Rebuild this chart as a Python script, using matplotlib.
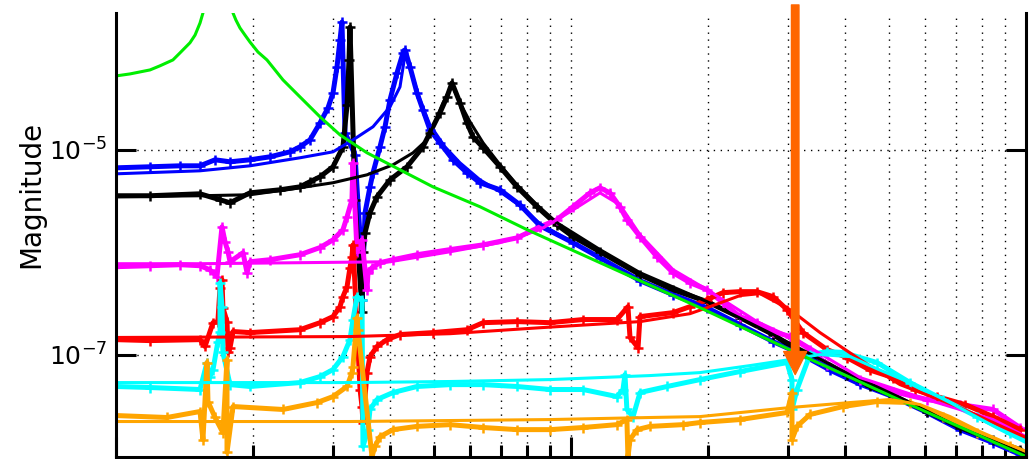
import matplotlib.pyplot as plt
from matplotlib.ticker import FixedLocator, LogLocator, NullFormatter, NullLocator

# frequency (Hz) and magnitude of each measured run, plus its fitted model
blue_f = [10.0, 11.88, 13.82, 15.30, 16.51, 17.81, 19.70, 21.81, 24.13, 25.37,
          26.69, 28.08, 29.24, 29.99, 30.60, 31.07, 31.38, 31.87, 33.52, 34.39,
          34.73, 35.27, 36.16, 36.72, 38.04, 39.02, 40.01, 41.46, 42.74, 43.17,
          44.28, 45.87, 47.28, 48.98, 51.53, 55.03, 59.08, 63.10, 69.82, 77.26,
          85.48, 101.0, 115.8, 141.8, 167.6, 199.0, 235.2, 278.0, 318.7, 370.9,
          431.6, 510.1, 606.0, 716.0, 846.2, 970.0]
blue_m = [6.67e-6, 6.83e-6, 6.98e-6, 6.98e-6, 7.99e-6, 7.64e-6, 7.99e-6, 8.55e-6, 9.56e-6, 1.07e-5,
          1.25e-5, 1.83e-5, 2.57e-5, 3.60e-5, 6.45e-5, 1.18e-4, 1.77e-4, 1.47e-5, 8.94e-6, 1.42e-6,
          3.44e-7, 2.43e-6, 4.35e-6, 5.97e-6, 1.07e-5, 1.68e-5, 3.07e-5, 5.64e-5, 8.83e-5, 9.46e-5,
          6.45e-5, 3.60e-5, 2.45e-5, 1.57e-5, 1.17e-5, 7.99e-6, 5.97e-6, 4.77e-6, 4.07e-6, 2.90e-6,
          1.81e-6, 1.24e-6, 8.83e-7, 5.27e-7, 3.85e-7, 2.87e-7, 1.96e-7, 1.34e-7, 1.02e-7, 7.06e-8,
          5.15e-8, 3.89e-8, 2.72e-8, 1.85e-8, 1.38e-8, 1.06e-8]
blue_fit_f = [10.0, 15.30, 19.70, 25.37, 29.99, 33.18, 36.72, 40.01, 42.09, 43.17, 44.28, 46.58,
              48.98, 52.84, 57.02, 63.10, 69.82, 77.26, 85.48, 101.0, 141.8, 199.0, 278.0, 390.1,
              528.4, 716.0, 1000]
blue_fit_m = [5.83e-6, 6.24e-6, 6.98e-6, 8.36e-6, 9.56e-6, 1.25e-5, 1.68e-5, 2.63e-5, 4.12e-5,
              8.45e-5, 6.31e-5, 3.07e-5, 1.75e-5, 1.07e-5, 7.47e-6, 5.09e-6, 3.89e-6, 2.84e-6,
              1.90e-6, 1.24e-6, 5.27e-7, 2.87e-7, 1.34e-7, 6.83e-8, 3.64e-8, 1.94e-8, 1.01e-8]

black_f = [10.0, 11.88, 15.30, 16.93, 17.81, 19.70, 22.93, 25.37, 26.69, 28.08,
           29.99, 31.54, 32.20, 32.52, 32.68, 33.52, 34.73, 34.90, 35.27, 36.16,
           37.46, 40.01, 43.61, 47.28, 48.98, 51.53, 53.39, 54.76, 57.02, 59.08,
           60.91, 64.09, 69.82, 76.09, 84.20, 93.17, 101.0, 115.8, 141.8, 167.6,
           199.0, 235.2, 278.0, 307.5, 352.6, 404.3, 454.1, 510.1, 606.0, 716.0,
           846.2, 970.0]
black_m = [3.56e-6, 3.56e-6, 3.72e-6, 3.25e-6, 3.04e-6, 3.80e-6, 4.07e-6, 4.35e-6, 4.88e-6, 5.45e-6,
           6.83e-6, 1.07e-5, 2.75e-5, 7.55e-5, 1.58e-4, 3.25e-6, 2.63e-7, 1.01e-6, 1.55e-6, 2.43e-6,
           3.48e-6, 5.09e-6, 6.83e-6, 1.07e-5, 1.47e-5, 2.30e-5, 3.29e-5, 4.51e-5, 2.88e-5, 1.83e-5,
           1.34e-5, 1.05e-5, 6.83e-6, 4.35e-6, 2.78e-6, 1.85e-6, 1.42e-6, 1.01e-6, 6.03e-7, 4.31e-7,
           3.29e-7, 2.30e-7, 1.57e-7, 1.17e-7, 8.94e-8, 6.38e-8, 4.88e-8, 3.98e-8, 2.78e-8, 1.94e-8,
           1.45e-8, 1.18e-8]
black_fit_f = [10.0, 15.30, 19.70, 25.37, 29.99, 35.62, 40.63, 44.95, 48.25, 49.73, 52.32, 54.76,
               57.02, 59.98, 64.09, 69.82, 76.09, 84.20, 93.17, 115.8, 141.8, 199.0, 278.0, 390.1,
               528.4, 716.0, 1000]
black_fit_m = [3.48e-6, 3.56e-6, 3.64e-6, 4.26e-6, 4.77e-6, 5.70e-6, 7.14e-6, 9.35e-6, 1.25e-5,
               1.68e-5, 2.88e-5, 4.31e-5, 2.88e-5, 1.88e-5, 1.17e-5, 7.14e-6, 4.56e-6, 2.90e-6,
               1.94e-6, 1.06e-6, 6.31e-7, 3.29e-7, 1.57e-7, 7.14e-8, 3.80e-8, 1.92e-8, 1.06e-8]

magenta_f = [10.0, 11.88, 13.82, 15.30, 16.07, 16.67, 17.10, 17.36, 17.63, 17.81,
             19.02, 19.41, 19.70, 21.81, 25.37, 28.08, 29.99, 31.54, 32.20, 33.01,
             33.18, 33.86, 34.73, 35.62, 35.80, 36.53, 38.04, 40.63, 45.87, 54.21,
             64.09, 76.09, 85.48, 93.17, 101.0, 110.1, 115.8, 121.8, 128.1, 132.7,
             141.8, 154.5, 167.6, 182.6, 199.0, 215.8, 235.2, 256.3, 278.0, 302.9,
             335.2, 365.2, 431.6, 510.1, 606.0, 716.0, 846.2, 970.0]
magenta_m = [7.22e-7, 7.38e-7, 7.55e-7, 7.38e-7, 6.75e-7, 5.77e-7, 1.77e-6, 1.27e-6, 1.01e-6, 8.07e-7,
             9.89e-7, 6.31e-7, 8.07e-7, 8.45e-7, 9.45e-7, 1.11e-6, 1.32e-6, 1.66e-6, 2.22e-6, 3.25e-6,
             7.47e-6, 1.01e-6, 1.32e-6, 4.31e-7, 6.31e-7, 7.06e-7, 7.90e-7, 8.45e-7, 9.45e-7, 1.06e-6,
             1.18e-6, 1.38e-6, 1.77e-6, 2.08e-6, 2.78e-6, 3.80e-6, 4.26e-6, 3.80e-6, 2.78e-6, 2.08e-6,
             1.42e-6, 9.03e-7, 6.31e-7, 5.04e-7, 4.31e-7, 3.21e-7, 2.35e-7, 2.05e-7, 1.68e-7, 1.50e-7,
             1.12e-7, 7.99e-8, 5.70e-8, 4.35e-8, 3.64e-8, 3.25e-8, 2.91e-8, 1.94e-8]
magenta_fit_f = [10.0, 15.30, 25.37, 40.01, 54.21, 69.82, 85.48, 99.49, 115.8, 128.1, 141.8,
                 167.6, 199.0, 256.3, 318.7, 431.6, 606.0, 846.2, 1000]
magenta_fit_m = [7.72e-7, 7.72e-7, 7.90e-7, 8.07e-7, 1.01e-6, 1.24e-6, 1.66e-6, 2.48e-6, 3.80e-6,
                 2.90e-6, 1.48e-6, 6.75e-7, 4.31e-7, 2.10e-7, 1.34e-7, 5.97e-8, 3.64e-8, 2.32e-8,
                 1.58e-8]

red_f = [10.0, 11.88, 15.30, 15.69, 16.34, 16.75, 16.93, 17.10, 17.18, 17.54,
         17.63, 17.81, 18.08, 19.70, 25.37, 28.08, 29.99, 31.07, 31.54, 32.20,
         32.68, 33.01, 33.18, 34.39, 34.73, 34.90, 35.62, 36.16, 37.46, 39.41,
         42.09, 49.73, 59.08, 64.09, 76.09, 89.91, 106.3, 126.2, 133.4, 134.8,
         140.4, 141.8, 167.6, 182.6, 199.0, 215.8, 235.2, 256.3, 278.0, 298.4,
         323.6, 365.2, 404.3, 454.1, 510.1, 570.2, 637.5, 734.4, 846.2, 970.0]
red_m = [1.40e-7, 1.37e-7, 1.40e-7, 1.20e-7, 2.05e-7, 2.10e-7, 4.51e-7, 5.39e-7, 2.87e-7, 2.10e-7,
         1.05e-7, 1.17e-7, 1.68e-7, 1.64e-7, 1.75e-7, 2.05e-7, 2.35e-7, 2.94e-7, 3.68e-7, 4.61e-7,
         7.06e-7, 9.03e-7, 1.18e-6, 4.56e-8, 3.11e-8, 2.17e-8, 6.67e-8, 9.56e-8, 1.20e-7, 1.40e-7,
         1.57e-7, 1.64e-7, 1.75e-7, 2.05e-7, 2.10e-7, 2.05e-7, 2.20e-7, 2.20e-7, 2.94e-7, 1.47e-7,
         1.17e-7, 2.35e-7, 2.57e-7, 2.94e-7, 3.44e-7, 4.03e-7, 4.12e-7, 4.12e-7, 3.68e-7, 2.75e-7,
         1.64e-7, 1.12e-7, 9.35e-8, 7.06e-8, 5.97e-8, 4.56e-8, 3.89e-8, 3.25e-8, 2.48e-8, 1.85e-8]
red_fit_f = [10.0, 32.68, 54.21, 85.48, 141.8, 182.6, 199.0, 235.2, 260.3, 302.9, 352.6,
             431.6, 528.4, 716.0, 1000]
red_fit_m = [1.47e-7, 1.50e-7, 1.60e-7, 1.83e-7, 2.10e-7, 2.51e-7, 2.87e-7, 3.77e-7, 3.94e-7,
             2.75e-7, 1.64e-7, 8.94e-8, 5.09e-8, 3.04e-8, 1.55e-8]

cyan_f = [10.0, 11.88, 15.30, 15.85, 16.07, 16.34, 16.75, 16.93, 16.93, 17.10,
          17.18, 17.81, 19.70, 25.37, 28.08, 29.99, 31.54, 32.68, 33.18, 33.86,
          34.73, 34.90, 35.80, 36.16, 37.46, 40.63, 45.87, 54.21, 64.09, 76.09,
          89.91, 106.3, 126.2, 130.1, 131.4, 132.7, 136.9, 141.8, 162.6, 192.1,
          235.2, 298.4, 306.0, 306.0, 313.8, 335.2, 365.2, 396.1, 470.4, 556.0,
          657.2, 780.5, 922.2, 1000]
cyan_m = [4.88e-8, 4.77e-8, 4.56e-8, 8.36e-8, 6.10e-8, 7.14e-8, 1.34e-7, 1.68e-7, 5.04e-7, 2.94e-7,
          1.05e-7, 5.09e-8, 4.88e-8, 5.33e-8, 6.10e-8, 7.14e-8, 9.56e-8, 1.40e-7, 2.20e-7, 3.68e-7,
          3.44e-7, 1.27e-8, 1.85e-8, 2.91e-8, 3.64e-8, 4.26e-8, 4.88e-8, 5.09e-8, 5.09e-8, 4.88e-8,
          4.56e-8, 4.56e-8, 3.89e-8, 4.56e-8, 6.38e-8, 2.91e-8, 2.48e-8, 4.26e-8, 4.88e-8, 5.70e-8,
          6.83e-8, 8.36e-8, 5.70e-8, 2.91e-8, 4.56e-8, 1.0e-7, 1.07e-7, 1.05e-7, 8.36e-8, 5.33e-8,
          3.64e-8, 2.48e-8, 1.73e-8, 1.48e-8]
cyan_fit_f = [10.0, 32.68, 54.21, 89.91, 149.2, 192.1, 247.4, 302.9, 352.6, 410.5, 477.6,
              556.0, 680.8, 876.9, 1000]
cyan_fit_m = [5.33e-8, 5.33e-8, 5.46e-8, 5.70e-8, 6.24e-8, 6.67e-8, 7.81e-8, 8.94e-8, 1.0e-7,
              9.56e-8, 7.06e-8, 5.33e-8, 3.40e-8, 1.85e-8, 1.38e-8]

orange_f = [10.0, 12.94, 15.30, 15.53, 15.85, 15.93, 16.51, 17.18, 17.54, 17.54,
            18.08, 23.28, 27.66, 29.99, 32.20, 33.01, 33.18, 33.86, 34.03, 36.53,
            37.09, 38.04, 40.63, 45.87, 54.21, 64.09, 76.09, 89.91, 106.3, 126.2,
            132.7, 133.4, 134.8, 139.7, 149.2, 176.3, 192.1, 235.2, 298.4, 306.0,
            306.0, 313.8, 335.2, 396.1, 470.4, 556.0, 657.2, 780.5, 922.2, 1000]
orange_m = [2.54e-8, 2.43e-8, 2.78e-8, 1.48e-8, 8.36e-8, 3.48e-8, 2.43e-8, 1.73e-8, 8.94e-8, 1.11e-8,
            3.11e-8, 2.91e-8, 3.40e-8, 3.89e-8, 4.88e-8, 6.67e-8, 7.64e-8, 2.30e-7, 1.75e-7, 1.01e-8,
            1.27e-8, 1.58e-8, 1.85e-8, 1.99e-8, 2.07e-8, 1.94e-8, 1.85e-8, 1.85e-8, 1.94e-8, 2.07e-8,
            2.32e-8, 9.89e-9, 1.48e-8, 1.85e-8, 1.99e-8, 2.07e-8, 2.17e-8, 2.32e-8, 2.72e-8, 4.26e-8,
            1.48e-8, 1.99e-8, 2.60e-8, 3.11e-8, 3.48e-8, 3.40e-8, 2.48e-8, 1.73e-8, 1.27e-8, 1.11e-8]
orange_fit_f = [10.0, 32.68, 89.91, 149.2, 192.1, 302.9, 410.5, 502.4, 584.8, 680.8, 792.2, 1000]
orange_fit_m = [2.22e-8, 2.22e-8, 2.32e-8, 2.43e-8, 2.48e-8, 3.04e-8, 3.40e-8, 3.64e-8, 3.25e-8,
                2.48e-8, 1.77e-8, 1.13e-8]

# single-mode reference curve (its peak runs off the top of the axes)
green_f = [10.0, 10.73, 11.88, 12.49, 13.34, 13.82, 14.54, 14.92, 15.30, 15.53, 15.77, 17.81,
           18.08, 18.35, 18.73, 19.21, 19.70, 20.51, 21.47, 22.36, 23.28, 25.37, 28.08, 31.07,
           35.62, 42.09, 49.73, 63.10, 80.05, 115.8, 192.1, 318.7, 536.6, 1000]
green_m = [5.27e-5, 5.51e-5, 6.03e-5, 6.61e-5, 7.55e-5, 8.83e-5, 1.11e-4, 1.32e-4, 1.73e-4,
           2.17e-4, 3.64e-4, 3.64e-4, 2.17e-4, 1.85e-4, 1.55e-4, 1.32e-4, 1.13e-4, 9.03e-5,
           7.55e-5, 6.03e-5, 4.82e-5, 3.29e-5, 2.10e-5, 1.40e-5, 9.35e-6, 6.38e-6, 4.35e-6,
           2.78e-6, 1.66e-6, 7.90e-7, 2.87e-7, 1.0e-7, 3.48e-8, 1.01e-8]

arrow_f = 311
arrow_tip = 6.38e-8

fig = plt.figure(figsize=(10.29, 4.59), dpi=100)
ax = fig.add_axes([0.1127, 0.0044, 0.8844, 0.9673])
ax.set_xscale('log')
ax.set_yscale('log')
ax.set_xlim(10, 1000)
ax.set_ylim(1e-8, 2.17e-4)

runs = [
    (blue_f, blue_m, blue_fit_f, blue_fit_m, '#0000ff'),
    (black_f, black_m, black_fit_f, black_fit_m, 'black'),
    (magenta_f, magenta_m, magenta_fit_f, magenta_fit_m, '#ff00ff'),
    (red_f, red_m, red_fit_f, red_fit_m, '#ff0000'),
    (cyan_f, cyan_m, cyan_fit_f, cyan_fit_m, '#00ffff'),
    (orange_f, orange_m, orange_fit_f, orange_fit_m, '#ffa500'),
]

# measured points first, fitted curves on top
for f, m, ff, fm, c in runs:
    ax.plot(f, m, color=c, lw=3.6, marker='+', ms=7, mew=1.8)
for f, m, ff, fm, c in runs[:-1]:
    ax.plot(ff, fm, color=c, lw=2.2)
ax.plot(green_f, green_m, color='#00ee00', lw=2.2)
ax.plot(orange_fit_f, orange_fit_m, color='#ffa500', lw=2.2)

# axes styling
for side in ['left', 'right', 'bottom']:
    ax.spines[side].set_linewidth(2.2)
ax.spines['top'].set_visible(False)

ax.xaxis.set_major_locator(FixedLocator([10, 100, 1000]))
ax.xaxis.set_minor_locator(LogLocator(base=10, subs=range(2, 10)))
ax.xaxis.set_minor_formatter(NullFormatter())
ax.set_yticks([1e-7, 1e-5])
ax.set_yticklabels([r'$10^{-7}$', r'$10^{-5}$'])
ax.yaxis.set_minor_locator(NullLocator())
ax.tick_params(which='major', direction='in', length=14.4, width=2.2, right=True, top=False,
               labelsize=18, pad=6.5, labelbottom=False)
ax.tick_params(axis='x', which='minor', direction='in', length=8.6, width=2.2, top=False)

ax.grid(True, which='both', axis='x', color='black', linestyle=(0, (1, 4)), linewidth=1.0)
ax.grid(True, which='major', axis='y', color='black', linestyle=(0, (1, 4)), linewidth=1.0)

fig.text(0.030, 0.577, 'Magnitude', rotation=90, ha='center', va='center', fontsize=20)

# marker arrow on the peak near 300 Hz
ax.annotate('', xy=(arrow_f, arrow_tip), xytext=(arrow_f, 2.6e-4),
            arrowprops=dict(arrowstyle='simple,head_length=16.6,head_width=16.6,tail_width=5.4',
                            mutation_scale=1, color='#ff6600', shrinkA=0, shrinkB=0),
            annotation_clip=False)

fig.savefig('out.png', dpi=100)
